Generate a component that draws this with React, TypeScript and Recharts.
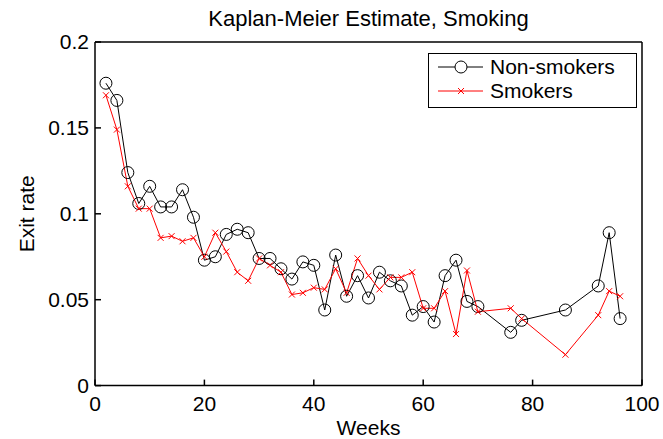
import React from 'react';
import { LineChart, Line, XAxis, YAxis, Legend } from 'recharts';

const weeks = [2, 4, 6, 8, 10, 12, 14, 16, 18, 20, 22, 24, 26, 28, 30, 32, 34, 36, 38, 40, 42, 44, 46, 48, 50, 52, 54, 56, 58, 60, 62, 64, 66, 68, 70, 76, 78, 86, 92, 94, 96];
const nonSmokers = [0.176, 0.166, 0.124, 0.106, 0.116, 0.104, 0.104, 0.114, 0.098, 0.073, 0.075, 0.088, 0.091, 0.089, 0.074, 0.074, 0.068, 0.062, 0.072, 0.070, 0.044, 0.076, 0.052, 0.064, 0.051, 0.066, 0.061, 0.058, 0.041, 0.046, 0.037, 0.064, 0.073, 0.049, 0.046, 0.031, 0.038, 0.044, 0.058, 0.089, 0.039];
const smokers = [0.169, 0.149, 0.116, 0.103, 0.103, 0.086, 0.087, 0.084, 0.086, 0.075, 0.089, 0.078, 0.066, 0.061, 0.074, 0.070, 0.066, 0.053, 0.054, 0.057, 0.056, 0.068, 0.054, 0.074, 0.064, 0.056, 0.063, 0.063, 0.066, 0.045, 0.045, 0.055, 0.030, 0.067, 0.043, 0.045, 0.039, 0.018, 0.041, 0.055, 0.052];
const xTicks = [0, 20, 40, 60, 80, 100];
const yTicks = [0, 0.05, 0.1, 0.15, 0.2];

const data = weeks.map((w, i) => ({ week: w, nonSmokers: nonSmokers[i], smokers: smokers[i] }));

const FONT = '"Liberation Sans", Arial, sans-serif';
const tickStyle = { fill: '#000', fontSize: 21, fontFamily: FONT };

// hollow circle marker, matlab style
const CircleDot = (props: any) => {
  const { cx, cy, index } = props;
  return <circle key={`c-${index}`} cx={cx} cy={cy} r={6} fill="none" stroke="#000" strokeWidth={1} />;
};

// small red "x" marker
const CrossDot = (props: any) => {
  const { cx, cy, index } = props;
  const s = 3;
  return (
    <g key={`x-${index}`}>
      <line x1={cx - s} y1={cy - s} x2={cx + s} y2={cy + s} stroke="#ff0000" strokeWidth={1} />
      <line x1={cx - s} y1={cy + s} x2={cx + s} y2={cy - s} stroke="#ff0000" strokeWidth={1} />
    </g>
  );
};

const rowText: React.CSSProperties = {
  position: 'absolute',
  left: 61,
  height: 20,
  lineHeight: '20px',
  whiteSpace: 'nowrap',
};

const renderLegend = () => (
  <div
    style={{
      position: 'relative',
      width: 209,
      height: 55,
      border: '1px solid #000',
      boxSizing: 'border-box',
      background: '#fff',
      fontFamily: FONT,
      fontSize: 21,
      color: '#000',
    }}
  >
    <svg width={60} height={55} style={{ position: 'absolute', left: 0, top: 0 }}>
      <line x1={9} y1={13} x2={54} y2={13} stroke="#000" strokeWidth={1} />
      <circle cx={32} cy={13} r={6} fill="#fff" stroke="#000" />
      <line x1={9} y1={37} x2={54} y2={37} stroke="#ff0000" strokeWidth={1} />
      <line x1={29} y1={34} x2={35} y2={40} stroke="#ff0000" />
      <line x1={29} y1={40} x2={35} y2={34} stroke="#ff0000" />
    </svg>
    <div style={{ ...rowText, top: 3 }}>Non-smokers</div>
    <div style={{ ...rowText, top: 27 }}>Smokers</div>
  </div>
);

const App: React.FC = () => {
  return (
    <div style={{ position: 'absolute', left: 0, top: 0, width: 663, height: 439, background: '#fff' }}>
      <LineChart width={663} height={439} data={data} margin={{ top: 0, right: 0, bottom: 0, left: 0 }}>
        <XAxis
          dataKey="week"
          type="number"
          domain={[0, 100]}
          ticks={xTicks}
          interval={0}
          height={53.4}
          stroke="#000"
          strokeWidth={1.5}
          tickSize={-6}
          tickMargin={16}
          tick={tickStyle}
          label={{ value: 'Weeks', position: 'insideBottom', offset: 4, fill: '#000', fontSize: 21, fontFamily: FONT }}
        />
        <XAxis
          xAxisId="top"
          orientation="top"
          dataKey="week"
          type="number"
          domain={[0, 100]}
          ticks={xTicks}
          interval={0}
          height={42}
          stroke="#000"
          strokeWidth={1.5}
          tickSize={-6}
          tick={false}
          label={{ value: 'Kaplan-Meier Estimate, Smoking', position: 'insideTop', offset: 10, fill: '#000', fontSize: 22, fontFamily: FONT }}
        />
        <YAxis
          type="number"
          domain={[0, 0.2]}
          ticks={yTicks}
          interval={0}
          width={95}
          stroke="#000"
          strokeWidth={1.5}
          tickSize={-6}
          tickMargin={12}
          tick={tickStyle}
          label={{ value: 'Exit rate', angle: -90, position: 'insideLeft', offset: 27, fill: '#000', fontSize: 21, fontFamily: FONT, style: { textAnchor: 'middle' } }}
        />
        <YAxis
          yAxisId="right"
          orientation="right"
          type="number"
          domain={[0, 0.2]}
          ticks={yTicks}
          interval={0}
          width={21}
          stroke="#000"
          strokeWidth={1.5}
          tickSize={-6}
          tick={false}
        />
        <Legend
          layout="vertical"
          align="center"
          verticalAlign="middle"
          content={renderLegend}
          wrapperStyle={{ left: 428, top: 53, width: 209, height: 55 }}
        />
        <Line
          dataKey="nonSmokers"
          stroke="#000"
          strokeWidth={1}
          dot={CircleDot}
          activeDot={false}
          isAnimationActive={false}
        />
        <Line
          dataKey="smokers"
          stroke="#ff0000"
          strokeWidth={1}
          dot={CrossDot}
          activeDot={false}
          isAnimationActive={false}
        />
      </LineChart>
    </div>
  );
};

export default App;
